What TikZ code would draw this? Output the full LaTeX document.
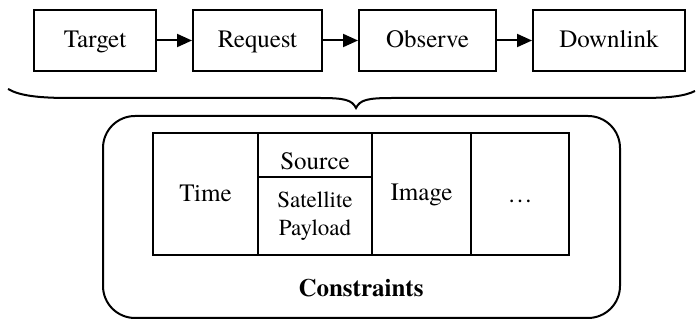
\documentclass[tikz,border=0pt]{standalone}
\usepackage{fontspec}
\setmainfont{texgyretermes}[Extension=.otf,UprightFont=*-regular,BoldFont=*-bold,ItalicFont=*-italic,BoldItalicFont=*-bolditalic]
\newfontfamily\tms{texgyretermes}[Extension=.otf,UprightFont=*-regular,BoldFont=*-bold,ItalicFont=*-italic,BoldItalicFont=*-bolditalic]
\usetikzlibrary{arrows.meta}
\begin{document}
\begin{tikzpicture}[x=1pt,y=-1pt,
  proc/.style={draw,line width=2pt,minimum height=61pt,inner sep=0pt,text height=19pt,text depth=5pt,font=\tms\fontsize{25}{29}\selectfont},
  flow/.style={line width=2pt,-{Triangle[length=15pt,width=13pt]}},
  cell/.style={draw,line width=2pt},
  lbl/.style={font=\tms\fontsize{25}{29}\selectfont,inner sep=0pt,text height=17pt,text depth=5pt},
  slbl/.style={font=\tms\fontsize{23}{28}\selectfont,inner sep=0pt}]
\useasboundingbox (0,0) rectangle (696,320);
% process boxes
\node[proc,minimum width=122pt] (target) at (95,40.5) {Target};
\node[proc,minimum width=129pt] (request) at (257.5,40.5) {Request};
\node[proc,minimum width=137pt] (observe) at (427.5,40.5) {Observe};
\node[proc,minimum width=152pt] (downlink) at (609,40.5) {Downlink};
\draw[flow] (target) -- (request);
\draw[flow] (request) -- (observe);
\draw[flow] (observe) -- (downlink);
% brace
\draw[line width=2pt] (8,89) .. controls (20,96) and (40,98) .. (70,98)
  -- (320,98) .. controls (345,98) and (352,100) .. (356,108)
  .. controls (360,100) and (367,98) .. (392,98)
  -- (640,98) .. controls (670,98) and (685,96) .. (695,91);
% rounded container
\draw[line width=2pt,rounded corners=32pt] (103,116) rectangle (620,318);
% table
\draw[cell] (153,133) rectangle (569,255);
\draw[cell] (258,133) -- (258,255);
\draw[cell] (372,133) -- (372,255);
\draw[cell] (471,133) -- (471,255);
\draw[cell] (258,177) -- (372,177);
\node[lbl] (time) at (205.5,196) {Time};
\node[lbl] (source) at (315,164) {Source};
\node[slbl,align=center] (sat) at (315,216) {Satellite\\Payload};
\node[lbl] (image) at (421.5,195) {Image};
\node[lbl] (dots) at (520,197) {\ldots};
\node[lbl,font=\tms\fontsize{25}{29}\selectfont\bfseries] (cons) at (361,291) {Constraints};
\end{tikzpicture}
\end{document}
